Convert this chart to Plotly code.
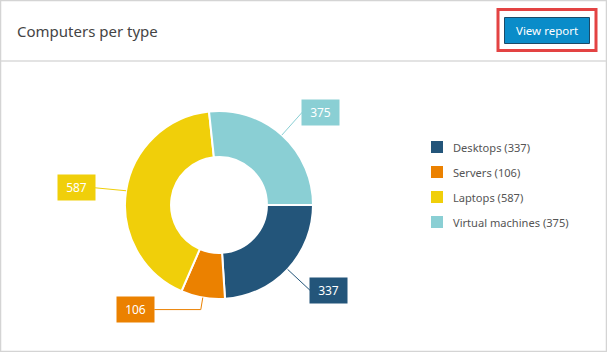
import math
import plotly.graph_objects as go

# ---- data ----
labels = ["Desktops", "Servers", "Laptops", "Virtual machines"]
values = [337, 106, 587, 375]
colors = ["#23557a", "#eb8100", "#f0cf0a", "#8acfd4"]
title_text = "Computers per type"
button_text = "View report"

# ---- layout constants (pixels) ----
W, H = 607, 352
CX, CY, R = 219, 205, 94
HOLE = 0.51
FONT = "Noto Sans"

def px(x):
    return x / W

def py(y):
    return 1 - y / H

fig = go.Figure()
fig.add_trace(go.Pie(
    labels=labels, values=values, sort=False, direction="clockwise", rotation=90,
    hole=HOLE, textinfo="none", showlegend=False,
    marker=dict(colors=colors, line=dict(color="white", width=2)),
    domain=dict(x=[px(CX - R), px(CX + R)], y=[py(CY + R), py(CY - R)]),
))

shapes = []
annotations = []

# outer border and header separator
shapes.append(dict(type="rect", xref="paper", yref="paper", x0=px(0.5), x1=px(W - 0.5),
                   y0=py(H - 0.5), y1=py(0.5), line=dict(color="#d4d4d4", width=1.5), layer="below"))
shapes.append(dict(type="line", xref="paper", yref="paper", x0=px(1), x1=px(W - 1),
                   y0=py(61), y1=py(61), line=dict(color="#dadada", width=1.5)))

# title
annotations.append(dict(text=title_text, xref="paper", yref="paper", x=px(15), y=py(31),
                        xanchor="left", yanchor="middle", showarrow=False,
                        font=dict(family=FONT, size=15, color="#444444")))

# button + highlight
shapes.append(dict(type="rect", xref="paper", yref="paper", x0=px(498), x1=px(596),
                   y0=py(50.5), y1=py(9.5), line=dict(color="#e34343", width=3)))
shapes.append(dict(type="rect", xref="paper", yref="paper", x0=px(504.5), x1=px(589.5),
                   y0=py(43.5), y1=py(17.5), fillcolor="#0a8cc9", line=dict(color="#1b4a68", width=1)))
annotations.append(dict(text=button_text, xref="paper", yref="paper", x=px(547), y=py(30.5),
                        xanchor="center", yanchor="middle", showarrow=False,
                        font=dict(family=FONT, size=11.5, color="white")))

# value labels with leader lines
label_offsets = [(41, 21), (-67, 12), (-50, -3), (39, -23)]  # box centre relative to slice edge point
elbow = [False, True, False, False]
BW, BH = 37, 25
total = sum(values)
cum = 0
for i, v in enumerate(values):
    mid = (cum + v / 2) / total * 2 * math.pi
    cum += v
    ex = CX + R * math.cos(mid)
    ey = CY + R * math.sin(mid)
    dx, dy = label_offsets[i]
    bx, by = ex + dx, ey + dy
    ax_ = bx - BW / 2 if dx > 0 else bx + BW / 2
    ay_ = by
    if elbow[i]:
        pts = [(ex, ey), (ex - 2, ay_), (ax_, ay_)]
    else:
        pts = [(ex, ey), (ax_, ay_)]
    path = "M " + " L ".join(f"{px(a)},{py(b)}" for a, b in pts)
    shapes.append(dict(type="path", xref="paper", yref="paper", path=path,
                       line=dict(color=colors[i], width=1)))
    annotations.append(dict(text=str(v), xref="paper", yref="paper", x=px(bx), y=py(by),
                            xanchor="center", yanchor="middle", showarrow=False,
                            width=BW, height=BH, bgcolor=colors[i], borderpad=0,
                            font=dict(family=FONT, size=12, color="white")))

# legend
LX, LY0, LSTEP, SQ = 431, 147, 25, 12
for i, (lab, v) in enumerate(zip(labels, values)):
    yc = LY0 + i * LSTEP
    shapes.append(dict(type="rect", xref="paper", yref="paper", x0=px(LX), x1=px(LX + SQ),
                       y0=py(yc + SQ / 2), y1=py(yc - SQ / 2), fillcolor=colors[i], line=dict(width=0)))
    annotations.append(dict(text=f"{lab} ({v})", xref="paper", yref="paper", x=px(451), y=py(yc),
                            xanchor="left", yanchor="middle", showarrow=False,
                            font=dict(family=FONT, size=11.1, color="#555555")))

fig.update_layout(
    width=W, height=H, margin=dict(l=0, r=0, t=0, b=0),
    paper_bgcolor="white", plot_bgcolor="white",
    shapes=shapes, annotations=annotations, showlegend=False,
)
fig.write_html("out.html")
